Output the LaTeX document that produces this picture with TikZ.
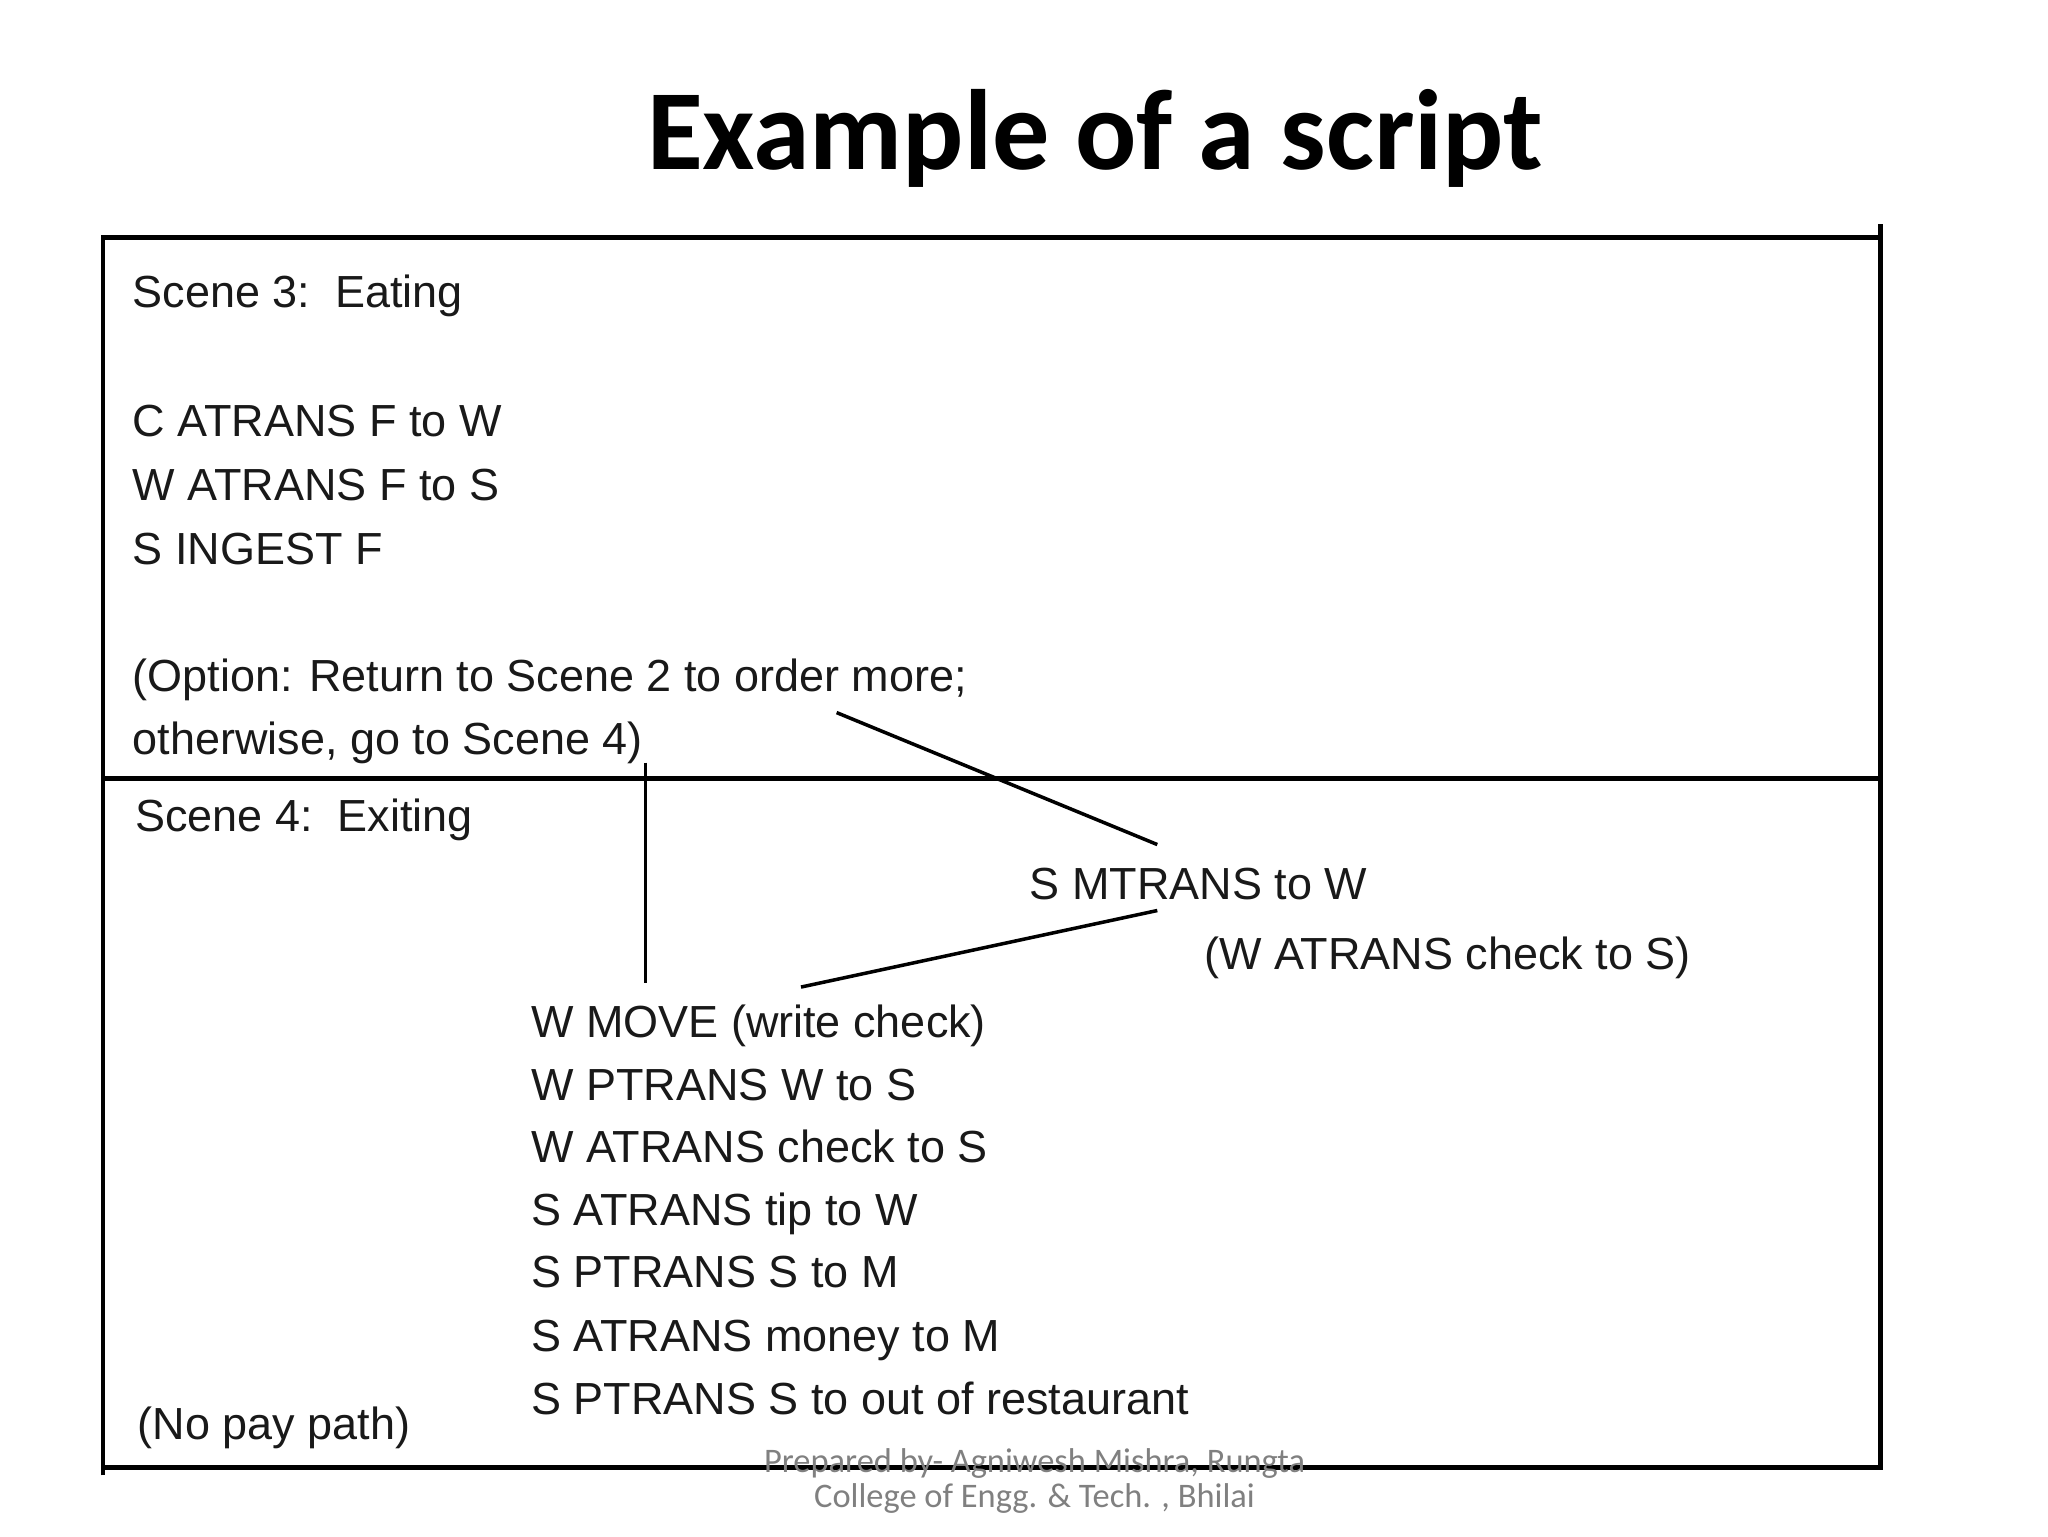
\documentclass[tikz,border=0pt]{standalone}
\usepackage{fontspec}
\setmainfont{Liberation Sans}
\newfontfamily\carlitofont{Carlito}
\begin{document}
\begin{tikzpicture}[x=0.013196cm,y=-0.013196cm,
 t/.style={anchor=base west,inner sep=0pt,font=\fontsize{12.8}{13}\selectfont,text=black!90},
 frame/.style={line width=1.3pt},
 conn/.style={line width=1pt}]
\useasboundingbox (0,0) rectangle (1552,1164);
\node[font=\carlitofont\bfseries\fontsize{32.5}{34}\selectfont] (title) at (830,105) {Example of a script};
\draw[frame] (78,1118) -- (78,180) -- (1425,180);
\draw[frame] (1425,170) -- (1425,1112) -- (78,1112);
\draw[frame] (78,590) -- (1425,590);
\node[t] (s3) at (100,233) {Scene 3:\ \ Eating};
\node[t] (a1) at (100,331) {C ATRANS F to W};
\node[t] (a2) at (100,379) {W ATRANS F to S};
\node[t] (a3) at (100,428) {S INGEST F};
\node[t] (o1) at (100,524) {(Option: Return to Scene 2 to order more;};
\node[t] (o2) at (100,572) {otherwise, go to Scene 4)};
\node[t] (s4) at (102,630) {Scene 4:\ \ Exiting};
\node[t] (mt) at (780,682) {S MTRANS to W};
\node[t] (wa) at (912,735) {(W ATRANS check to S)};
\node[t] (b1) at (402,786) {W MOVE (write check)};
\node[t] (b2) at (402,834) {W PTRANS W to S};
\node[t] (b3) at (402,881) {W ATRANS check to S};
\node[t] (b4) at (402,929) {S ATRANS tip to W};
\node[t] (b5) at (402,976) {S PTRANS S to M};
\node[t] (b6) at (402,1024) {S ATRANS money to M};
\node[t] (b7) at (402,1072) {S PTRANS S to out of restaurant};
\node[t] (np) at (104,1091) {(No pay path)};
\coordinate (c1) at (489,578); \coordinate (c2) at (489,745);
\coordinate (c3) at (634,540); \coordinate (c4) at (877,640);
\coordinate (c5) at (607,748); \coordinate (c6) at (877,690);
\draw[conn] (c1) -- (c2);
\draw[conn] (c3) -- (c4);
\draw[conn] (c5) -- (c6);
\node[font=\carlitofont\fontsize{9.8}{11}\selectfont,text=black!50,align=center] (foot) at (784,1122) {Prepared by- Agniwesh Mishra, Rungta\\[-1pt]College of Engg. \& Tech. , Bhilai};
\end{tikzpicture}
\end{document}
